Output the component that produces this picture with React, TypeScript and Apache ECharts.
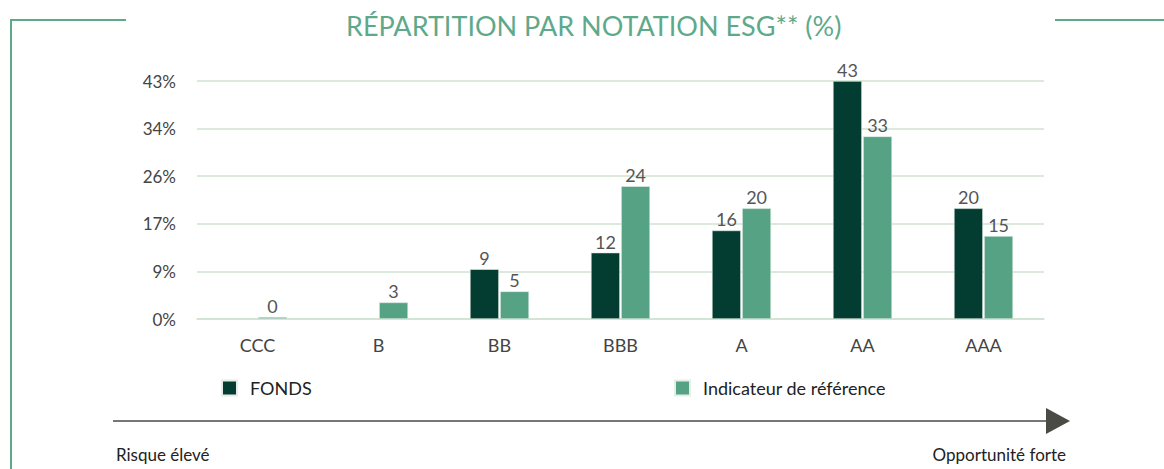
import React, { useEffect, useRef } from "react";
import * as echarts from "echarts";

const categories = ["CCC", "B", "BB", "BBB", "A", "AA", "AAA"];
const fondsValues: (number | null)[] = [null, null, 9, 12, 16, 43, 20];
const refValues: number[] = [0, 3, 5, 24, 20, 33, 15];
const yMax = 43;
const yInterval = 8.6;
const titleText = "RÉPARTITION PAR NOTATION ESG** (%)";
const leftNote = "Risque élevé";
const rightNote = "Opportunité forte";

const DARK = "#033d31";
const LIGHT = "#56a285";
const FRAME = "#5fa98b";
const GRID = "#cfe3d0";
const FONT = "Lato";

export default function App() {
  const ref = useRef<HTMLDivElement>(null);
  useEffect(() => {
    document.body.style.margin = "0";
    const chart = echarts.init(ref.current!, null, { renderer: "svg" });
    const label = {
      show: true,
      position: "top" as const,
      distance: 2,
      color: "#555",
      fontSize: 18,
      fontFamily: FONT,
      formatter: (p: any) => String(Math.round(p.value)),
    };
    const legendText = { color: "#222", fontSize: 18, fontFamily: FONT, padding: [0, 0, 0, 8] };
    chart.setOption({
      animation: false,
      textStyle: { fontFamily: FONT },
      title: {
        text: titleText,
        left: 341,
        top: 7,
        textStyle: { color: FRAME, fontSize: 27, fontWeight: "normal", fontFamily: FONT },
      },
      legend: [
        {
          data: ["FONDS"],
          left: 216,
          top: 374,
          itemWidth: 15,
          itemHeight: 15,
          icon: "rect",
          textStyle: legendText,
        },
        {
          data: ["Indicateur de référence"],
          left: 669,
          top: 374,
          itemWidth: 15,
          itemHeight: 15,
          icon: "rect",
          textStyle: legendText,
        },
      ],
      grid: { left: 197, right: 120, top: 81, bottom: 150, containLabel: false },
      xAxis: {
        type: "category",
        data: categories,
        axisLine: { show: true, lineStyle: { color: GRID, width: 1.5 } },
        axisTick: { show: false },
        axisLabel: { color: "#444", fontSize: 18, fontFamily: FONT, margin: 17 },
      },
      yAxis: {
        type: "value",
        min: 0,
        max: yMax,
        interval: yInterval,
        axisLine: { show: false },
        axisTick: { show: false },
        splitLine: { lineStyle: { color: GRID, width: 1.5 } },
        axisLabel: {
          color: "#444",
          fontSize: 17,
          fontFamily: FONT,
          margin: 21,
          formatter: (v: number) => Math.round(v) + "%",
        },
      },
      series: [
        {
          name: "FONDS",
          type: "bar",
          data: fondsValues,
          barWidth: 29,
          barGap: "4%",
          itemStyle: { color: DARK, borderColor: "#e6eee8", borderWidth: 0.6 },
          label,
        },
        {
          name: "Indicateur de référence",
          type: "bar",
          data: refValues,
          barWidth: 29,
          barMinHeight: 2,
          itemStyle: { color: LIGHT, borderColor: "#e6eee8", borderWidth: 0.6 },
          label,
        },
      ],
      graphic: [
        { type: "line", shape: { x1: 11, y1: 20, x2: 126, y2: 20 }, style: { stroke: FRAME, lineWidth: 2 } },
        { type: "line", shape: { x1: 11, y1: 19, x2: 11, y2: 469 }, style: { stroke: FRAME, lineWidth: 2 } },
        { type: "line", shape: { x1: 1055, y1: 20, x2: 1164, y2: 20 }, style: { stroke: FRAME, lineWidth: 2 } },
        { type: "line", shape: { x1: 113, y1: 421, x2: 1050, y2: 421 }, style: { stroke: "#4a4b45", lineWidth: 1.5 } },
        {
          type: "polygon",
          shape: { points: [[1046, 408], [1070, 421], [1046, 434]] },
          style: { fill: "#4a4b45" },
        },
        {
          type: "text",
          x: 116,
          y: 454,
          style: { text: leftNote, fill: "#222", fontSize: 17, fontFamily: FONT, textVerticalAlign: "middle" },
        },
        {
          type: "text",
          x: 1066,
          y: 454,
          style: { text: rightNote, fill: "#222", fontSize: 17, fontFamily: FONT, textAlign: "right", textVerticalAlign: "middle" },
        },
      ],
    });
    return () => chart.dispose();
  }, []);
  return <div ref={ref} style={{ width: 1164, height: 469 }} />;
}
